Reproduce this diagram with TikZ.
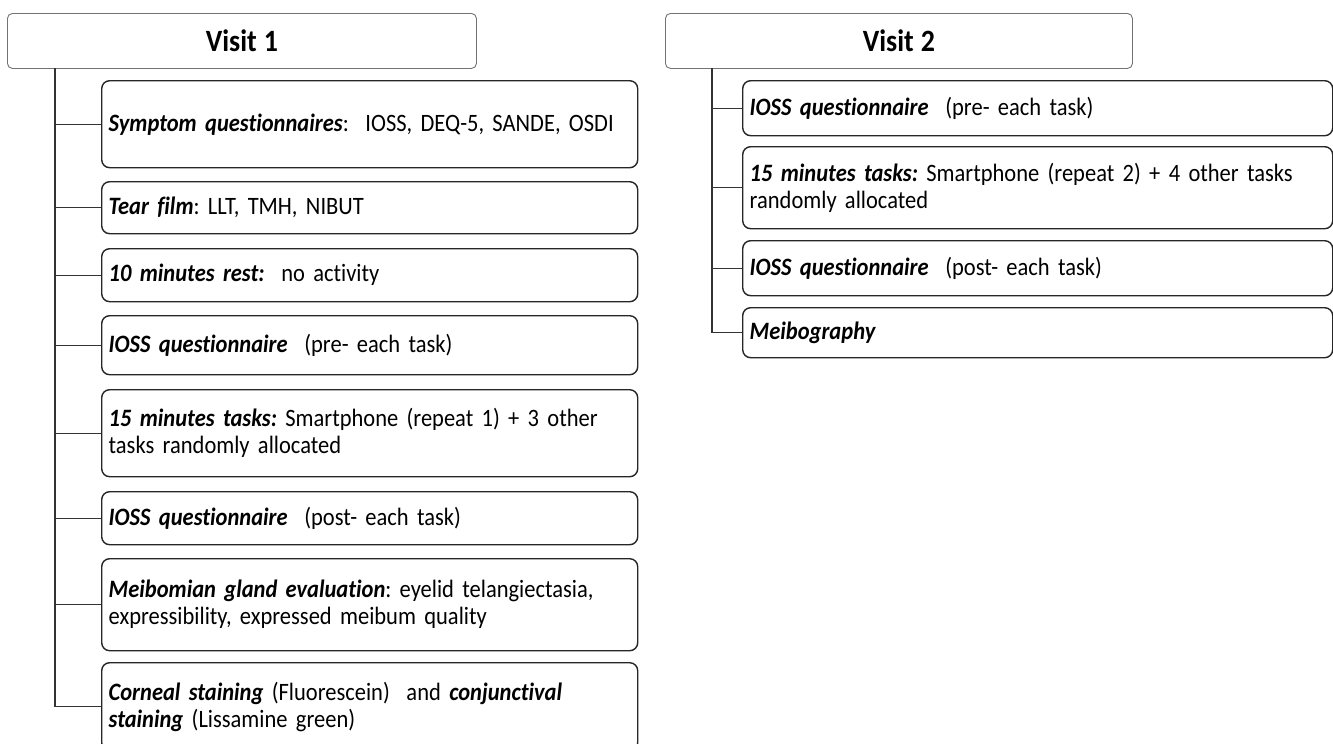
\documentclass[tikz,border=0pt]{standalone}
\usepackage{fontspec}
\setmainfont{Carlito}[Ligatures=NoCommon, FakeStretch=0.9, WordSpace=0.7]
\frenchspacing
\begin{document}
\begin{tikzpicture}[x=1pt,y=-1pt,
  hdr/.style={draw=black!55, line width=0.9pt, rounded corners=5pt, anchor=north west, inner sep=0pt,
    font=\fontsize{31}{34}\selectfont\bfseries},
  itembox/.style={draw=black!85, line width=1.4pt, rounded corners=8pt, anchor=north west,
    inner xsep=7pt, inner ysep=0pt, align=left, font=\fontsize{25}{27}\selectfont\frenchspacing},
  conn/.style={draw=black!80, line width=1.1pt}]
\useasboundingbox (0,0) rectangle (1333,744);
\clip (0,0) rectangle (1333,744);
\fill[white] (0,0) rectangle (1333,744);
\newcommand{\bi}[1]{\textbf{\textit{#1}}}
% Visit 1
\node[hdr, minimum width=469pt, minimum height=55pt] (h1) at (7,13) {Visit\hspace{7pt}1};
\node[itembox, text width=522pt, minimum height=87pt] (a1) at (101,80) {\bi{Symptom questionnaires}:\ \ IOSS, DEQ-5, SANDE, OSDI};
\node[itembox, text width=522pt, minimum height=52pt] (a2) at (101,181) {\bi{Tear film}: LLT, TMH, NIBUT};
\node[itembox, text width=522pt, minimum height=53pt] (a3) at (101,248) {\bi{10 minutes rest:}\ \ no activity};
\node[itembox, text width=522pt, minimum height=59pt] (a4) at (101,315) {\bi{IOSS questionnaire}\ \ (pre- each task)};
\node[itembox, text width=522pt, minimum height=87pt] (a5) at (101,389) {\bi{15 minutes tasks:} Smartphone (repeat 1) + 3 other\\tasks randomly allocated};
\node[itembox, text width=522pt, minimum height=53pt] (a6) at (101,491) {\bi{IOSS questionnaire}\ \ (post- each task)};
\node[itembox, text width=522pt, minimum height=92pt] (a7) at (101,558) {\bi{Meibomian gland evaluation}: eyelid telangiectasia,\\expressibility, expressed meibum quality};
\node[itembox, text width=522pt, minimum height=88pt] (a8) at (101,662) {\bi{Corneal staining} (Fluorescein)\ \ and \bi{conjunctival}\\\bi{staining} (Lissamine green)};
\coordinate (t1) at (55,68);
\draw[conn] (t1) |- (a8.west);
\foreach \n in {a1,a2,a3,a4,a5,a6,a7}{\draw[conn] (t1 |- \n.west) -- (\n.west);}
% Visit 2
\node[hdr, minimum width=467pt, minimum height=55pt] (h2) at (665,13) {Visit\hspace{7pt}2};
\node[itembox, text width=576pt, minimum height=55pt] (b1) at (742,80) {\bi{IOSS questionnaire}\ \ (pre- each task)};
\node[itembox, text width=576pt, minimum height=82pt] (b2) at (742,146) {\bi{15 minutes tasks:} Smartphone (repeat 2) + 4 other tasks\\randomly allocated};
\node[itembox, text width=576pt, minimum height=55pt] (b3) at (742,240) {\bi{IOSS questionnaire}\ \ (post- each task)};
\node[itembox, text width=576pt, minimum height=50pt] (b4) at (742,307) {\bi{Meibography}};
\coordinate (t2) at (712,68);
\draw[conn] (t2) |- (b4.west);
\foreach \n in {b1,b2,b3}{\draw[conn] (t2 |- \n.west) -- (\n.west);}
\end{tikzpicture}
\end{document}
